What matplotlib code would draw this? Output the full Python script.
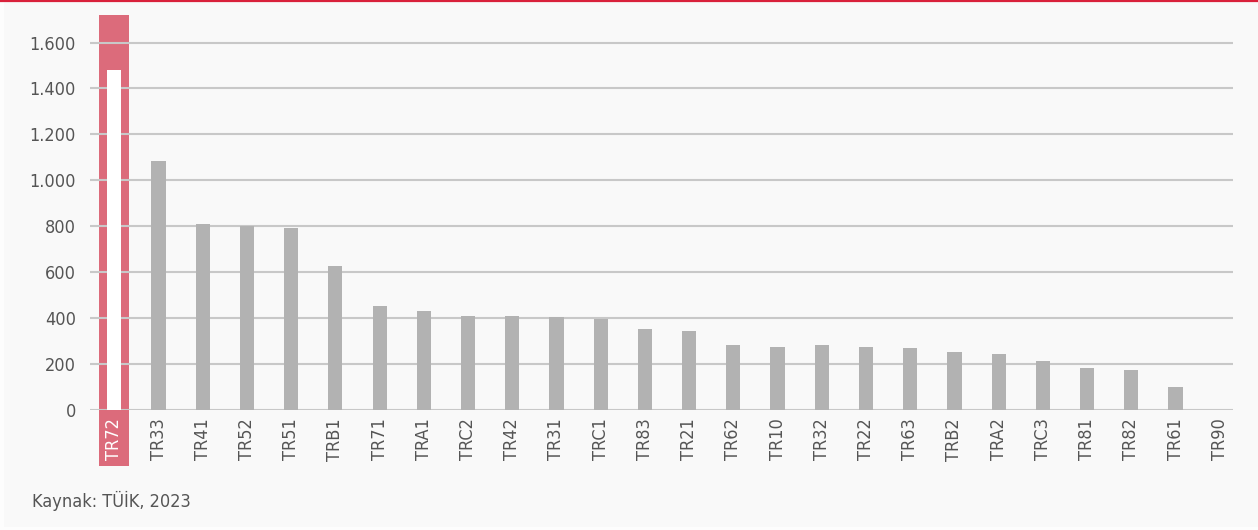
import matplotlib
matplotlib.use('Agg')
import matplotlib.pyplot as plt
from matplotlib.patches import Rectangle
import matplotlib.transforms as mtransforms

regions = ['TR72', 'TR33', 'TR41', 'TR52', 'TR51', 'TRB1', 'TR71', 'TRA1', 'TRC2', 'TR42',
           'TR31', 'TRC1', 'TR83', 'TR21', 'TR62', 'TR10', 'TR32', 'TR22', 'TR63', 'TRB2',
           'TRA2', 'TRC3', 'TR81', 'TR82', 'TR61', 'TR90']
values = [1481, 1086, 812, 800, 794, 627, 452, 430, 409, 409,
          404, 396, 352, 343, 283, 274, 283, 275, 270, 253,
          244, 214, 183, 174, 100, 0]
highlight = 'TR72'
yticks = [0, 200, 400, 600, 800, 1000, 1200, 1400, 1600]
ytick_labels = ['0', '200', '400', '600', '800', '1.000', '1.200', '1.400', '1.600']
source = 'Kaynak: TÜİK, 2023'

plt.rcParams['font.family'] = ['DejaVu Sans']
plt.rcParams['font.stretch'] = 'condensed'

bg = '#f9f9f9'
red = '#dc6b7b'
bar_gray = '#b2b2b2'
text_gray = '#555555'

def main():
    fig = plt.figure(figsize=(12.58, 5.30), dpi=100, facecolor='#fdfdfd')
    # light panel, leaving a thin paler margin at left and bottom
    fig.add_artist(Rectangle((4 / 1258, 3 / 530), 1 - 4 / 1258, 1 - 3 / 530,
                             transform=fig.transFigure, facecolor=bg,
                             edgecolor='none', zorder=0))
    ax = fig.add_axes([90 / 1258, 1 - 410 / 530, 1143 / 1258, 395 / 530])
    ax.set_facecolor('none')

    x = list(range(len(regions)))
    hi = regions.index(highlight)

    # red highlight box behind the first bar, reaching down over its label
    trans = mtransforms.blended_transform_factory(ax.transData, ax.transAxes)
    ax.add_patch(Rectangle((hi - 0.34, -0.142), 0.68, 1.142, transform=trans,
                           facecolor=red, edgecolor='none', clip_on=False, zorder=1))

    colors = ['white' if r == highlight else bar_gray for r in regions]
    ax.bar(x, values, width=0.32, color=colors, zorder=3)

    for t in yticks:
        ax.axhline(t, color='#c8c8c8', lw=1.5, zorder=2)

    ax.set_xlim(-0.55, 25.3)
    ax.set_ylim(0, 1720)
    ax.set_yticks(yticks)
    ax.set_yticklabels(ytick_labels, fontsize=13, color=text_gray)
    ax.tick_params(axis='y', length=0, pad=10)
    ax.set_xticks(x)
    ax.set_xticklabels(regions, rotation=90, fontsize=13, color=text_gray)
    ax.tick_params(axis='x', length=0, pad=6)
    ax.get_xticklabels()[hi].set_color('white')
    for s in ax.spines.values():
        s.set_visible(False)

    # red rule across the top of the figure
    fig.add_artist(plt.Line2D([0, 1], [1 - 1 / 530, 1 - 1 / 530], color='#d9213b',
                              lw=1.6, transform=fig.transFigure))
    fig.text(32 / 1258, 1 - 507 / 530, source, fontsize=13, color=text_gray,
             ha='left', va='baseline')

    fig.savefig('out.png', dpi=100, facecolor=fig.get_facecolor())

if __name__ == '__main__':
    main()
